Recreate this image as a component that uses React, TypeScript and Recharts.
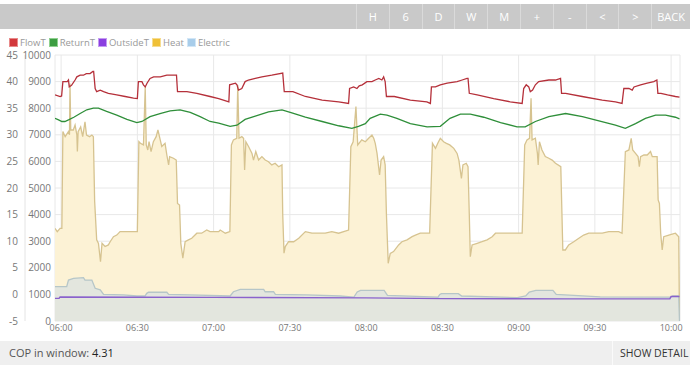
import React from 'react'
import { ComposedChart, Area, Line, XAxis, YAxis, CartesianGrid } from 'recharts'

// time is minutes after 06:00
const timeTicks = [0, 30, 60, 90, 120, 150, 180, 210, 240]
const timeLabels = ['06:00', '06:30', '07:00', '07:30', '08:00', '08:30', '09:00', '09:30', '10:00']
const tempTicks = [-5, 0, 5, 10, 15, 20, 25, 30, 35, 40, 45]
const powerTicks = [0, 1000, 2000, 3000, 4000, 5000, 6000, 7000, 8000, 9000, 10000]
const buttons = ['H', '6', 'D', 'W', 'M', '+', '-', '<', '>', 'BACK']

const heat: [number, number][] = [
  [-2.4, 3480], [-1.5, 3360], [-0.4, 3480], [0.3, 3480], [0.7, 7120], [1.6, 6930], [2.9, 7120], [3.3, 7000],
  [3.5, 8930], [3.8, 7180], [4.8, 7180], [5.5, 7370], [6.2, 7000], [6.4, 6370], [6.7, 7120], [7.7, 7300],
  [8.5, 6930], [9.4, 7490], [10.0, 6990], [11.2, 6930], [12.1, 6990], [12.7, 6930], [13.2, 4500], [14.0, 3050],
  [14.7, 2920], [15.5, 2230], [16.1, 2920], [17.3, 2800], [18.6, 2860], [19.3, 2980], [20.6, 3170], [21.9, 3230],
  [23.2, 3360], [30.0, 3360], [30.6, 6740], [31.2, 6680], [32.4, 6620], [33.1, 8810], [33.5, 6620], [34.1, 6430],
  [34.6, 6740], [35.4, 6370], [36.3, 6740], [37.4, 6930], [38.1, 7180], [39.0, 6810], [39.6, 6560], [40.9, 6680],
  [41.6, 6240], [42.3, 5870], [42.7, 6180], [44.2, 6120], [45.3, 6050], [45.8, 4420], [46.6, 4360], [47.1, 2920],
  [47.9, 2360], [48.8, 2980], [50.1, 3050], [51.4, 3110], [53.4, 3300], [55.3, 3300], [57.3, 3420], [58.6, 3360],
  [62.0, 3360], [62.6, 3420], [64.6, 3300], [66.4, 3360], [67.0, 6620], [67.8, 6810], [69.1, 6870], [69.5, 8870],
  [70.0, 6870], [71.1, 6930], [71.8, 6870], [72.2, 5680], [72.7, 6740], [73.8, 6550], [75.1, 6300], [75.7, 6050],
  [76.6, 6370], [77.7, 6050], [79.0, 6180], [80.3, 6050], [81.6, 5990], [82.9, 5870], [84.2, 5930], [85.6, 5800],
  [86.9, 5870], [87.2, 4000], [87.7, 2550], [88.2, 2800], [89.5, 2980], [91.5, 2980], [93.5, 3110], [96.1, 3360],
  [98.7, 3300], [103.9, 3300], [106.5, 3360], [109.2, 3300], [113.1, 3420], [114.0, 6550], [114.9, 6740], [116.0, 8060],
  [116.7, 6620], [118.3, 6810], [119.7, 6740], [121.0, 6870], [122.3, 6990], [123.0, 6870], [123.6, 6680], [124.3, 6300],
  [125.3, 5490], [125.9, 6050], [126.9, 6180], [127.5, 5870], [128.0, 4000], [128.7, 2170], [129.5, 2540], [130.8, 2610],
  [132.8, 2860], [134.1, 2980], [136.1, 3050], [138.1, 3170], [139.4, 3230], [141.3, 3300], [145.0, 3300], [146.1, 6680],
  [147.3, 6490], [148.2, 6680], [149.2, 6870], [150.5, 6740], [151.6, 6680], [152.9, 6620], [154.5, 6490], [155.8, 6300],
  [156.5, 6050], [157.5, 5360], [158.1, 5870], [159.4, 5930], [160.1, 5800], [160.6, 4000], [161.0, 2420], [161.7, 2860],
  [163.7, 2920], [165.6, 2980], [167.6, 3050], [169.6, 3170], [170.9, 3300], [181.4, 3300], [182.4, 6620], [183.3, 6810],
  [184.3, 6870], [184.9, 8370], [185.3, 6810], [186.6, 6870], [187.4, 6300], [187.7, 5870], [188.2, 6740], [189.2, 6430],
  [190.5, 6180], [191.9, 6120], [193.2, 6050], [194.5, 5930], [196.6, 5800], [197.4, 2670], [198.4, 2670], [199.7, 2860],
  [201.7, 2980], [203.7, 3110], [205.6, 3230], [207.6, 3300], [212.9, 3300], [215.5, 3360], [219.4, 3360], [220.7, 3300],
  [222.0, 6370], [223.4, 6430], [224.3, 6870], [224.9, 6430], [226.0, 6300], [227.0, 6180], [227.5, 5800], [228.0, 6180],
  [229.3, 6240], [230.6, 6240], [231.9, 6370], [232.6, 6180], [234.5, 6180], [234.9, 4550], [235.4, 4420], [235.9, 3300],
  [236.5, 2670], [237.1, 3170], [239.1, 3230], [241.7, 3300], [243.0, 3170], [243.3, 0],
]

const electric: [number, number][] = [
  [-2.4, 1290], [2.2, 1290], [2.9, 1540], [4.9, 1600], [8.8, 1630], [9.4, 1540], [12.1, 1540], [13.4, 1230],
  [15.4, 1170], [16.7, 1000], [24.5, 980], [29.8, 940], [33.0, 940], [33.7, 1040], [34.4, 1080], [41.6, 1080],
  [42.3, 1000], [50.8, 980], [66.5, 940], [67.8, 1100], [70.5, 1190], [79.7, 1190], [80.3, 1100], [83.6, 1100],
  [84.3, 1000], [96.7, 980], [109.8, 940], [115.2, 900], [116.5, 1090], [117.8, 1150], [127.1, 1150], [128.4, 960],
  [148.3, 900], [149.0, 1000], [149.6, 1030], [156.3, 1030], [157.6, 940], [179.5, 880], [182.8, 940], [184.2, 1090],
  [186.8, 1150], [193.5, 1150], [194.8, 1000], [212.1, 910], [240.0, 900], [240.6, 940], [243.0, 940], [243.3, 0],
]

const flowT: [number, number][] = [
  [-2.4, 37.5], [-0.4, 37.2], [0.2, 37.3], [0.7, 40.0], [2.4, 40.0], [2.9, 40.3], [3.2, 39.0], [4.1, 39.3],
  [5.5, 40.3], [6.2, 40.9], [7.5, 41.2], [8.8, 41.2], [9.9, 41.5], [11.4, 41.5], [12.5, 41.9], [12.8, 41.9],
  [13.4, 38.7], [14.0, 38.1], [15.4, 38.4], [16.7, 38.1], [18.6, 37.8], [21.9, 37.5], [25.2, 37.2], [28.5, 36.9],
  [30.0, 36.8], [30.4, 40.0], [31.8, 40.0], [32.4, 39.4], [33.1, 39.0], [33.8, 39.7], [35.0, 40.6], [36.4, 40.9],
  [39.0, 40.9], [41.6, 41.2], [45.4, 41.2], [45.8, 38.1], [49.5, 38.1], [53.4, 37.8], [58.6, 37.2], [62.0, 36.8],
  [66.0, 36.2], [66.3, 39.4], [68.6, 39.7], [69.2, 39.4], [69.8, 38.4], [71.1, 38.7], [72.4, 40.0], [73.7, 40.3],
  [76.4, 40.6], [79.0, 40.9], [82.9, 41.2], [87.2, 41.6], [87.8, 38.1], [91.2, 38.1], [96.1, 37.2], [102.7, 36.5],
  [109.2, 36.2], [113.1, 35.9], [113.5, 38.7], [115.1, 39.0], [116.4, 38.7], [117.3, 39.2], [118.5, 39.4], [120.3, 40.0],
  [122.3, 40.0], [123.6, 40.3], [125.0, 40.6], [126.2, 40.3], [126.9, 40.9], [127.5, 40.0], [128.0, 37.2], [131.1, 37.2],
  [137.4, 36.5], [143.9, 36.2], [145.3, 35.9], [145.7, 39.0], [147.3, 39.0], [149.2, 39.4], [151.9, 39.7], [155.8, 40.0],
  [157.8, 40.3], [159.7, 40.6], [160.1, 40.6], [160.6, 37.8], [163.7, 37.5], [170.2, 36.8], [176.7, 36.2], [181.4, 35.9],
  [182.0, 38.7], [183.0, 39.4], [184.0, 39.0], [184.6, 38.1], [185.5, 38.4], [186.6, 39.4], [187.9, 40.0], [191.9, 40.3],
  [194.5, 40.3], [196.5, 40.6], [196.9, 37.8], [198.5, 37.8], [205.0, 37.2], [212.9, 36.5], [218.1, 36.2], [220.7, 35.9],
  [221.4, 38.7], [223.4, 38.7], [224.7, 38.4], [225.4, 39.0], [228.0, 39.4], [230.6, 39.7], [233.2, 40.0], [234.4, 40.3],
  [234.8, 37.8], [236.0, 37.8], [238.6, 37.5], [241.7, 37.2], [243.3, 37.1],
]

const returnT: [number, number][] = [
  [-2.4, 33.1], [-1.0, 32.8], [0.3, 32.5], [1.5, 32.5], [2.9, 32.8], [5.0, 33.3], [7.5, 34.0], [10.1, 34.7],
  [12.7, 35.0], [14.7, 35.0], [17.9, 34.4], [21.9, 33.7], [25.9, 32.9], [29.8, 32.3], [31.8, 32.5], [35.0, 33.4],
  [38.9, 34.0], [42.9, 34.5], [46.8, 34.7], [50.8, 34.2], [54.7, 33.4], [58.6, 32.5], [62.0, 32.2], [66.5, 31.6],
  [69.2, 31.8], [72.4, 32.9], [76.4, 33.5], [81.6, 34.3], [86.9, 34.7], [90.8, 34.1], [96.1, 33.3], [102.7, 32.5],
  [109.2, 31.7], [114.4, 31.2], [117.0, 31.6], [119.7, 32.1], [121.6, 33.1], [125.6, 33.9], [128.2, 33.7], [132.1, 33.1],
  [137.4, 32.1], [144.0, 31.5], [149.2, 31.6], [153.0, 33.1], [157.1, 33.9], [161.0, 33.9], [166.3, 33.3], [172.9, 32.3],
  [179.4, 31.5], [182.6, 31.5], [186.6, 32.5], [191.9, 33.4], [198.5, 34.0], [205.1, 33.4], [211.6, 32.6], [218.1, 31.8],
  [222.0, 31.2], [226.0, 32.1], [229.9, 33.1], [233.9, 33.7], [237.8, 33.7], [241.7, 33.3], [243.3, 33.0],
]

const outsideT: [number, number][] = [
  [-2.4, -0.75], [-0.8, -0.75], [-0.4, -0.5], [60, -0.55], [120, -0.65], [150, -0.8], [200, -0.85],
  [239.5, -0.85], [240.0, -0.4], [243.3, -0.4],
]

const legendItems = [
  { name: 'FlowT', fill: '#d2383c', border: '#e88a8a' },
  { name: 'ReturnT', fill: '#3c9d42', border: '#8fd08f' },
  { name: 'OutsideT', fill: '#8b3fe0', border: '#c59bf2' },
  { name: 'Heat', fill: '#efc037', border: '#f6dc90' },
  { name: 'Electric', fill: '#a8cdea', border: '#d2e6f6' },
]

const toRows = (pairs: [number, number][]) => pairs.map(([t, v]) => ({ t, v }))

const font = "'Open Sans', sans-serif"
const tickStyle = { fontSize: 10, fill: '#777', fontFamily: font }

const App = () => {
  return (
    <div style={{ position: 'fixed', top: 0, left: 0, width: 690, height: 370, background: '#fff', fontFamily: font }}>
      <div style={{ position: 'absolute', top: 4, left: 0, width: 690, height: 25, background: '#c9c9c9' }}>
        {buttons.map((b, i) => (
          <div
            key={b}
            style={{
              position: 'absolute',
              left: 356 + i * 32.8,
              width: i === buttons.length - 1 ? 690 - 356 - i * 32.8 : 32.8,
              top: 0,
              height: 25,
              borderLeft: '1px solid #dadada',
              boxSizing: 'border-box',
              color: '#fff',
              fontSize: 11,
              lineHeight: '25px',
              textAlign: 'center',
            }}
          >
            {b}
          </div>
        ))}
      </div>

      <div style={{ position: 'absolute', top: 36, left: 9, height: 12, display: 'flex', alignItems: 'center', fontSize: 9.5, color: '#999' }}>
        {legendItems.map((l) => (
          <div key={l.name} style={{ display: 'flex', alignItems: 'center', marginRight: 3 }}>
            <span style={{ width: 7, height: 7, background: l.fill, border: `1px solid ${l.border}`, marginRight: 2 }} />
            <span>{l.name}</span>
          </div>
        ))}
      </div>

      <div style={{ position: 'absolute', top: 44, left: 0 }}>
        <ComposedChart width={690} height={297} margin={{ top: 11, right: 10, bottom: 4, left: 0 }}>
          <CartesianGrid yAxisId="temp" stroke="#e8e8e8" />
          <XAxis
            type="number"
            dataKey="t"
            domain={[-2.4, 243.5]}
            ticks={timeTicks}
            tickFormatter={(v: number) => timeLabels[timeTicks.indexOf(v)]}
            allowDataOverflow
            axisLine={false}
            tickLine={false}
            tickSize={0}
            tickMargin={4}
            height={16}
            tick={{ ...tickStyle, fontSize: 9 }}
          />
          <YAxis
            yAxisId="power"
            width={30}
            domain={[0, 10000]}
            ticks={powerTicks}
            interval={0}
            allowDataOverflow
            axisLine={false}
            tickLine={false}
            tickSize={0}
            tickMargin={4}
            tick={tickStyle}
          />
          <YAxis
            yAxisId="temp"
            width={25}
            domain={[-5, 45]}
            ticks={tempTicks}
            interval={0}
            allowDataOverflow
            axisLine={{ stroke: '#e4e4e4' }}
            tickLine={false}
            tickSize={0}
            tickMargin={7}
            tick={tickStyle}
          />
          <Area
            yAxisId="power"
            data={toRows(heat)}
            dataKey="v"
            type="linear"
            stroke="#d6c390"
            strokeWidth={1.3}
            fill="#fcf2d5"
            fillOpacity={1}
            isAnimationActive={false}
          />
          <Area
            yAxisId="power"
            data={toRows(electric)}
            dataKey="v"
            type="linear"
            stroke="#b6c6c8"
            strokeWidth={1.3}
            fill="#e3e6de"
            fillOpacity={1}
            isAnimationActive={false}
          />
          <Line yAxisId="temp" data={toRows(flowT)} dataKey="v" type="linear" stroke="#b5303a" strokeWidth={1.3} dot={false} isAnimationActive={false} />
          <Line yAxisId="temp" data={toRows(returnT)} dataKey="v" type="linear" stroke="#2f8f3a" strokeWidth={1.3} dot={false} isAnimationActive={false} />
          <Line yAxisId="temp" data={toRows(outsideT)} dataKey="v" type="linear" stroke="#8a62cc" strokeWidth={1.4} dot={false} isAnimationActive={false} />
        </ComposedChart>
      </div>

      <div style={{ position: 'absolute', top: 341, left: 0, width: 690, height: 24, background: '#efefef', fontSize: 11, lineHeight: '24px' }}>
        <span style={{ position: 'absolute', left: 9, color: '#555' }}>
          COP in window: <span style={{ color: '#222' }}>4.31</span>
        </span>
        <div style={{ position: 'absolute', left: 612, top: 0, height: 24, borderLeft: '1px solid #fafafa' }} />
        <span style={{ position: 'absolute', left: 620, color: '#333', fontSize: 10.5 }}>SHOW DETAIL</span>
      </div>
    </div>
  )
}

export default App
